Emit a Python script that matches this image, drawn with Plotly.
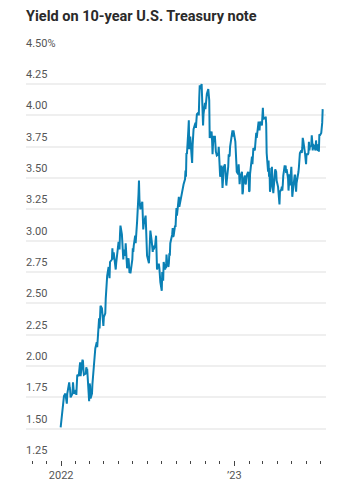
import plotly.graph_objects as go

# Daily closing yield on the 10-year U.S. Treasury note, in percent
dates_2022 = [
    "2021-12-31",
    "2022-01-03", "2022-01-04", "2022-01-05", "2022-01-06", "2022-01-07", "2022-01-10", "2022-01-11",
    "2022-01-12", "2022-01-13", "2022-01-14", "2022-01-18", "2022-01-19", "2022-01-20", "2022-01-21",
    "2022-01-24", "2022-01-25", "2022-01-26", "2022-01-27", "2022-01-28", "2022-01-31",
    "2022-02-01", "2022-02-02", "2022-02-03", "2022-02-04", "2022-02-07", "2022-02-08", "2022-02-09",
    "2022-02-10", "2022-02-11", "2022-02-14", "2022-02-15", "2022-02-16", "2022-02-17", "2022-02-18",
    "2022-02-22", "2022-02-23", "2022-02-24", "2022-02-25", "2022-02-28",
    "2022-03-01", "2022-03-02", "2022-03-03", "2022-03-04", "2022-03-07", "2022-03-08", "2022-03-09",
    "2022-03-10", "2022-03-11", "2022-03-14", "2022-03-15", "2022-03-16", "2022-03-17", "2022-03-18",
    "2022-03-21", "2022-03-22", "2022-03-23", "2022-03-24", "2022-03-25", "2022-03-28", "2022-03-29",
    "2022-03-30", "2022-03-31",
    "2022-04-01", "2022-04-04", "2022-04-05", "2022-04-06", "2022-04-07", "2022-04-08", "2022-04-11",
    "2022-04-12", "2022-04-13", "2022-04-14", "2022-04-18", "2022-04-19", "2022-04-20", "2022-04-21",
    "2022-04-22", "2022-04-25", "2022-04-26", "2022-04-27", "2022-04-28", "2022-04-29",
    "2022-05-02", "2022-05-03", "2022-05-04", "2022-05-05", "2022-05-06", "2022-05-09", "2022-05-10",
    "2022-05-11", "2022-05-12", "2022-05-13", "2022-05-16", "2022-05-17", "2022-05-18", "2022-05-19",
    "2022-05-20", "2022-05-23", "2022-05-24", "2022-05-25", "2022-05-26", "2022-05-27", "2022-05-31",
    "2022-06-01", "2022-06-02", "2022-06-03", "2022-06-06", "2022-06-07", "2022-06-08", "2022-06-09",
    "2022-06-10", "2022-06-13", "2022-06-14", "2022-06-15", "2022-06-16", "2022-06-17", "2022-06-21",
    "2022-06-22", "2022-06-23", "2022-06-24", "2022-06-27", "2022-06-28", "2022-06-29", "2022-06-30",
    "2022-07-01", "2022-07-05", "2022-07-06", "2022-07-07", "2022-07-08", "2022-07-11", "2022-07-12",
    "2022-07-13", "2022-07-14", "2022-07-15", "2022-07-18", "2022-07-19", "2022-07-20", "2022-07-21",
    "2022-07-22", "2022-07-25", "2022-07-26", "2022-07-27", "2022-07-28", "2022-07-29",
    "2022-08-01", "2022-08-02", "2022-08-03", "2022-08-04", "2022-08-05", "2022-08-08", "2022-08-09",
    "2022-08-10", "2022-08-11", "2022-08-12", "2022-08-15", "2022-08-16", "2022-08-17", "2022-08-18",
    "2022-08-19", "2022-08-22", "2022-08-23", "2022-08-24", "2022-08-25", "2022-08-26", "2022-08-29",
    "2022-08-30", "2022-08-31",
    "2022-09-01", "2022-09-02", "2022-09-06", "2022-09-07", "2022-09-08", "2022-09-09", "2022-09-12",
    "2022-09-13", "2022-09-14", "2022-09-15", "2022-09-16", "2022-09-19", "2022-09-20", "2022-09-21",
    "2022-09-22", "2022-09-23", "2022-09-26", "2022-09-27", "2022-09-28", "2022-09-29", "2022-09-30",
    "2022-10-03", "2022-10-04", "2022-10-05", "2022-10-06", "2022-10-07", "2022-10-11", "2022-10-12",
    "2022-10-13", "2022-10-14", "2022-10-17", "2022-10-18", "2022-10-19", "2022-10-20", "2022-10-21",
    "2022-10-24", "2022-10-25", "2022-10-26", "2022-10-27", "2022-10-28", "2022-10-31",
    "2022-11-01", "2022-11-02", "2022-11-03", "2022-11-04", "2022-11-07", "2022-11-08", "2022-11-09",
    "2022-11-10", "2022-11-14", "2022-11-15", "2022-11-16", "2022-11-17", "2022-11-18", "2022-11-21",
    "2022-11-22", "2022-11-23", "2022-11-25", "2022-11-28", "2022-11-29", "2022-11-30",
    "2022-12-01", "2022-12-02", "2022-12-05", "2022-12-06", "2022-12-07", "2022-12-08", "2022-12-09",
    "2022-12-12", "2022-12-13", "2022-12-14", "2022-12-15", "2022-12-16", "2022-12-19", "2022-12-20",
    "2022-12-21", "2022-12-22", "2022-12-23", "2022-12-27", "2022-12-28", "2022-12-29", "2022-12-30",
]
yields_2022 = [
    1.51,
    1.63, 1.66, 1.71, 1.73, 1.76, 1.78, 1.75,
    1.74, 1.70, 1.78, 1.87, 1.83, 1.81, 1.75,
    1.77, 1.78, 1.87, 1.80, 1.78, 1.79,
    1.81, 1.77, 1.83, 1.93, 1.92, 1.96, 1.94,
    2.03, 1.92, 1.99, 2.05, 2.04, 1.97, 1.93,
    1.94, 1.99, 1.97, 1.97, 1.83,
    1.72, 1.86, 1.84, 1.74, 1.78, 1.86, 1.95,
    1.99, 2.00, 2.14, 2.16, 2.19, 2.19, 2.15,
    2.32, 2.38, 2.30, 2.37, 2.48, 2.46, 2.40,
    2.35, 2.32,
    2.39, 2.42, 2.54, 2.61, 2.66, 2.72, 2.79,
    2.72, 2.70, 2.83, 2.85, 2.94, 2.85, 2.90,
    2.90, 2.81, 2.77, 2.82, 2.85, 2.89,
    2.99, 2.97, 2.93, 3.05, 3.12, 3.05, 2.99,
    2.91, 2.85, 2.93, 2.88, 2.98, 2.89, 2.84,
    2.78, 2.86, 2.76, 2.75, 2.75, 2.74, 2.85,
    2.94, 2.91, 2.96, 3.04, 2.98, 3.03, 3.04,
    3.15, 3.37, 3.48, 3.33, 3.28, 3.25, 3.31,
    3.16, 3.09, 3.13, 3.20, 3.20, 3.10, 2.98,
    2.88, 2.82, 2.93, 3.01, 3.08, 2.99, 2.96,
    2.91, 2.96, 2.93, 2.96, 3.03, 3.04, 2.91,
    2.77, 2.81, 2.81, 2.78, 2.68, 2.67,
    2.60, 2.75, 2.73, 2.68, 2.83, 2.77, 2.80,
    2.78, 2.89, 2.84, 2.79, 2.82, 2.90, 2.88,
    2.98, 3.03, 3.05, 3.10, 3.03, 3.04, 3.12,
    3.11, 3.19,
    3.26, 3.20, 3.35, 3.27, 3.29, 3.33, 3.36,
    3.41, 3.41, 3.45, 3.45, 3.49, 3.56, 3.51,
    3.70, 3.69, 3.88, 3.96, 3.73, 3.79, 3.83,
    3.67, 3.62, 3.76, 3.83, 3.89, 3.94, 3.90,
    3.96, 4.01, 4.02, 4.00, 4.14, 4.24, 4.21,
    4.25, 4.10, 4.04, 3.92, 4.01, 4.10,
    4.05, 4.10, 4.15, 4.17, 4.21, 4.14, 4.12,
    3.82, 3.87, 3.80, 3.69, 3.77, 3.83, 3.83,
    3.76, 3.71, 3.68, 3.69, 3.75, 3.68,
    3.53, 3.51, 3.60, 3.53, 3.42, 3.48, 3.58,
    3.61, 3.50, 3.48, 3.44, 3.48, 3.59, 3.69,
    3.67, 3.68, 3.75, 3.84, 3.88, 3.83, 3.88,
]

dates_2023 = [
    "2023-01-03", "2023-01-04", "2023-01-05", "2023-01-06", "2023-01-09", "2023-01-10", "2023-01-11",
    "2023-01-12", "2023-01-13", "2023-01-17", "2023-01-18", "2023-01-19", "2023-01-20", "2023-01-23",
    "2023-01-24", "2023-01-25", "2023-01-26", "2023-01-27", "2023-01-30", "2023-01-31",
    "2023-02-01", "2023-02-02", "2023-02-03", "2023-02-06", "2023-02-07", "2023-02-08", "2023-02-09",
    "2023-02-10", "2023-02-13", "2023-02-14", "2023-02-15", "2023-02-16", "2023-02-17", "2023-02-21",
    "2023-02-22", "2023-02-23", "2023-02-24", "2023-02-27", "2023-02-28",
    "2023-03-01", "2023-03-02", "2023-03-03", "2023-03-06", "2023-03-07", "2023-03-08", "2023-03-09",
    "2023-03-10", "2023-03-13", "2023-03-14", "2023-03-15", "2023-03-16", "2023-03-17", "2023-03-20",
    "2023-03-21", "2023-03-22", "2023-03-23", "2023-03-24", "2023-03-27", "2023-03-28", "2023-03-29",
    "2023-03-30", "2023-03-31",
    "2023-04-03", "2023-04-04", "2023-04-05", "2023-04-06", "2023-04-07", "2023-04-10", "2023-04-11",
    "2023-04-12", "2023-04-13", "2023-04-14", "2023-04-17", "2023-04-18", "2023-04-19", "2023-04-20",
    "2023-04-21", "2023-04-24", "2023-04-25", "2023-04-26", "2023-04-27", "2023-04-28",
    "2023-05-01", "2023-05-02", "2023-05-03", "2023-05-04", "2023-05-05", "2023-05-08", "2023-05-09",
    "2023-05-10", "2023-05-11", "2023-05-12", "2023-05-15", "2023-05-16", "2023-05-17", "2023-05-18",
    "2023-05-19", "2023-05-22", "2023-05-23", "2023-05-24", "2023-05-25", "2023-05-26", "2023-05-30",
    "2023-05-31",
    "2023-06-01", "2023-06-02", "2023-06-05", "2023-06-06", "2023-06-07", "2023-06-08", "2023-06-09",
    "2023-06-12", "2023-06-13", "2023-06-14", "2023-06-15", "2023-06-16", "2023-06-20", "2023-06-21",
    "2023-06-22", "2023-06-23", "2023-06-26", "2023-06-27", "2023-06-28", "2023-06-29", "2023-06-30",
    "2023-07-03", "2023-07-05", "2023-07-06",
]
yields_2023 = [
    3.79, 3.69, 3.72, 3.55, 3.53, 3.61, 3.54,
    3.45, 3.50, 3.55, 3.37, 3.39, 3.48, 3.52,
    3.46, 3.45, 3.49, 3.52, 3.55, 3.52,
    3.39, 3.40, 3.53, 3.64, 3.67, 3.61, 3.66,
    3.74, 3.72, 3.77, 3.81, 3.86, 3.82, 3.95,
    3.92, 3.88, 3.95, 3.92, 3.92,
    3.99, 4.06, 3.97, 3.98, 3.97, 3.99, 3.93,
    3.70, 3.55, 3.64, 3.51, 3.58, 3.39, 3.47,
    3.59, 3.44, 3.42, 3.38, 3.53, 3.57, 3.56,
    3.55, 3.48,
    3.43, 3.35, 3.31, 3.29, 3.39, 3.41, 3.43,
    3.40, 3.45, 3.52, 3.60, 3.58, 3.60, 3.54,
    3.57, 3.50, 3.40, 3.45, 3.53, 3.44,
    3.59, 3.44, 3.35, 3.39, 3.44, 3.52, 3.52,
    3.44, 3.39, 3.46, 3.51, 3.55, 3.59, 3.65,
    3.70, 3.72, 3.70, 3.74, 3.82, 3.80, 3.69,
    3.64,
    3.61, 3.69, 3.69, 3.70, 3.79, 3.72, 3.75,
    3.76, 3.84, 3.79, 3.72, 3.77, 3.72, 3.72,
    3.80, 3.74, 3.72, 3.77, 3.71, 3.85, 3.84,
    3.86, 3.94, 4.05,
]

y_ticks = [1.25, 1.50, 1.75, 2.00, 2.25, 2.50, 2.75, 3.00, 3.25, 3.50, 3.75, 4.00, 4.25, 4.50]
y_tick_text = ["1.25", "1.50", "1.75", "2.00", "2.25", "2.50", "2.75", "3.00", "3.25", "3.50",
               "3.75", "4.00", "4.25", "4.50%"]
x_tick_vals = ["2022-01-01", "2023-01-01"]
x_tick_text = ["2022", "\u201923"]

title_text = "Yield on 10-year U.S. Treasury note"

W, H = 342, 488
plot_left, plot_right = 26, 326
plot_top, plot_bottom = 52.7, 460

LINE_COLOR = "#0a80b5"
GRID_COLOR = "#efefef"
LABEL_COLOR = "#555555"

fig = go.Figure()
fig.add_trace(go.Scatter(
    x=dates_2022 + dates_2023,
    y=yields_2022 + yields_2023,
    mode="lines",
    line=dict(color=LINE_COLOR, width=2),
    hoverinfo="skip",
))

x_dom = [plot_left / W, plot_right / W]
y_dom = [(H - plot_bottom) / H, (H - plot_top) / H]

fig.update_layout(
    width=W, height=H,
    margin=dict(l=0, r=0, t=0, b=0),
    paper_bgcolor="white",
    plot_bgcolor="white",
    showlegend=False,
    xaxis=dict(
        domain=x_dom,
        type="date",
        range=["2021-10-19", "2023-07-13"],
        showgrid=False,
        zeroline=False,
        showline=False,
        tickmode="array",
        tickvals=x_tick_vals,
        ticktext=x_tick_text,
        ticks="outside",
        ticklen=5,
        tickwidth=1,
        tickcolor="#444444",
        tickfont=dict(family="Roboto", size=11, color=LABEL_COLOR),
        minor=dict(dtick="M1", tick0="2022-01-01", ticks="outside", ticklen=3,
                   tickwidth=1, tickcolor="#444444", showgrid=False),
        fixedrange=True,
    ),
    yaxis=dict(
        domain=y_dom,
        range=[1.25, 4.5],
        tickmode="array",
        tickvals=y_ticks,
        showticklabels=False,
        showgrid=True,
        gridcolor=GRID_COLOR,
        gridwidth=2,
        zeroline=False,
        showline=False,
        ticks="",
        fixedrange=True,
    ),
)

# Value labels sit on the left, just above each gridline
for v, t in zip(y_ticks, y_tick_text):
    fig.add_annotation(
        x=x_dom[0], xref="paper", y=v, yref="y",
        text=t, showarrow=False, xanchor="left", yanchor="bottom",
        yshift=1, xshift=-2,
        font=dict(family="Roboto", size=11, color=LABEL_COLOR),
    )

fig.add_annotation(
    x=x_dom[0], xref="paper", y=1 - 16 / H, yref="paper",
    text="<b>" + title_text + "</b>", showarrow=False,
    xanchor="left", yanchor="middle", xshift=-2,
    font=dict(family="Roboto", size=14.5, color="#2a2a2a"),
)

fig.write_html("out.html")
